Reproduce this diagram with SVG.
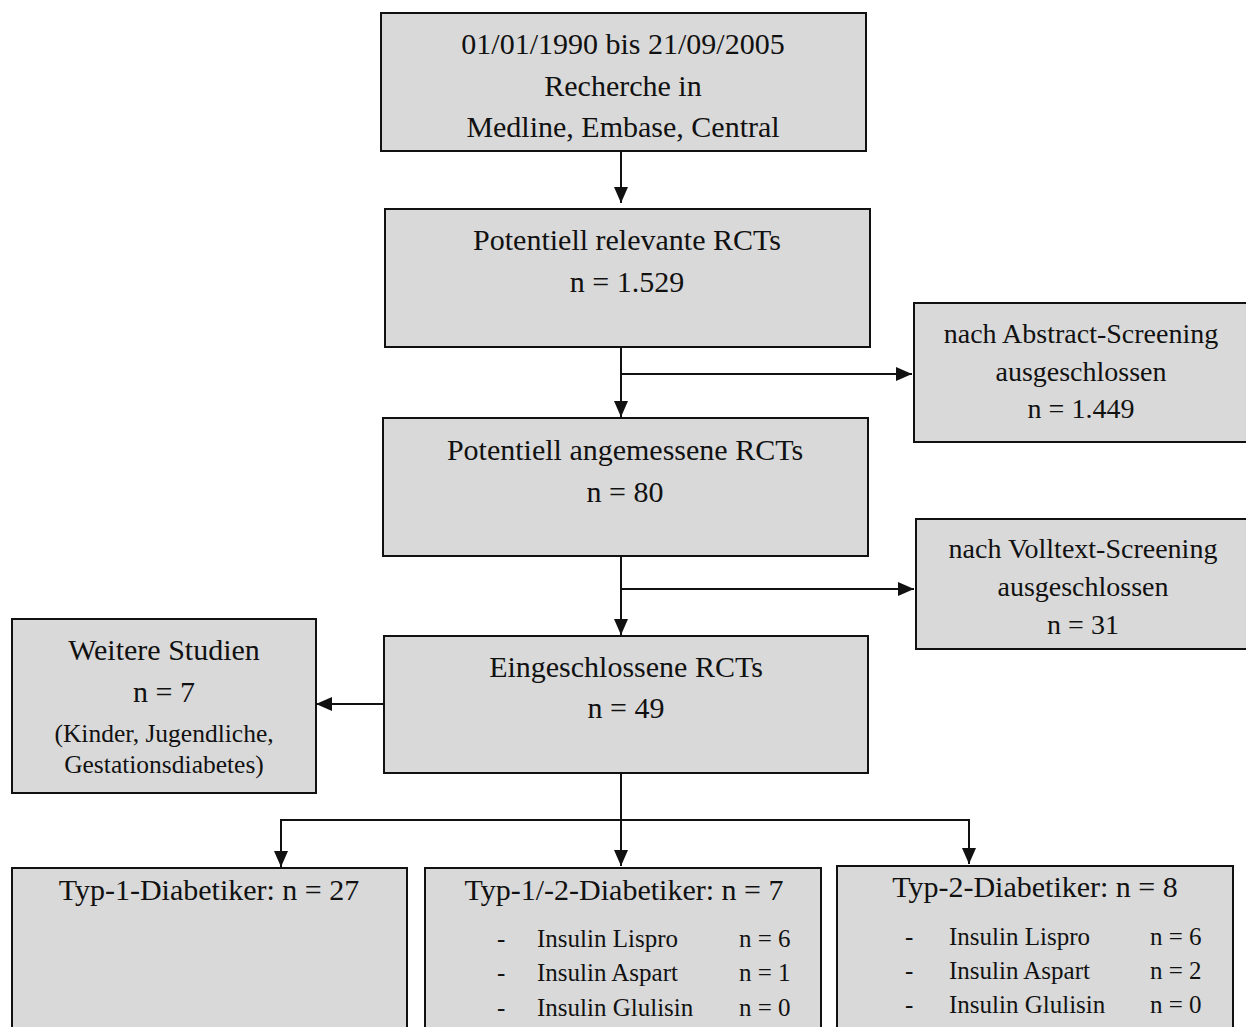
<svg xmlns="http://www.w3.org/2000/svg" width="1246" height="1027" viewBox="0 0 1246 1027">
  <style>
    .box { fill: #d9d9d9; stroke: #111; stroke-width: 2; }
    .t { font-family: "Liberation Serif", "Times New Roman", serif; fill: #111; }
    .big { font-size: 30px; text-anchor: middle; }
    .side { font-size: 28px; text-anchor: middle; }
    .small { font-size: 25.5px; text-anchor: middle; }
    .item { font-size: 25px; }
    .wire { fill: none; stroke: #111; stroke-width: 2; }
  </style>
  <defs>
    <marker id="arrow" markerUnits="userSpaceOnUse" markerWidth="16" markerHeight="14" refX="16" refY="7" orient="auto">
      <polygon points="0,0 16,7 0,14" fill="#111"/>
    </marker>
  </defs>

  <rect width="1246" height="1027" fill="#fff"/>

  <g id="connectors">
    <line class="wire" x1="621" y1="151" x2="621" y2="203" marker-end="url(#arrow)"/>
    <line class="wire" x1="621" y1="347" x2="621" y2="417" marker-end="url(#arrow)"/>
    <line class="wire" x1="621" y1="374" x2="912" y2="374" marker-end="url(#arrow)"/>
    <line class="wire" x1="621" y1="556" x2="621" y2="635" marker-end="url(#arrow)"/>
    <line class="wire" x1="621" y1="589" x2="914" y2="589" marker-end="url(#arrow)"/>
    <line class="wire" x1="384" y1="704" x2="316" y2="704" marker-end="url(#arrow)"/>
    <line class="wire" x1="621" y1="773" x2="621" y2="866" marker-end="url(#arrow)"/>
    <polyline class="wire" points="281,820 969,820 969,864" marker-end="url(#arrow)"/>
    <line class="wire" x1="281" y1="819" x2="281" y2="867" marker-end="url(#arrow)"/>
  </g>

  <g id="search">
    <rect class="box" x="381" y="13" width="485" height="138"/>
    <text class="t big" x="623" y="54">01/01/1990 bis 21/09/2005</text>
    <text class="t big" x="623" y="96">Recherche in</text>
    <text class="t big" x="623" y="137">Medline, Embase, Central</text>
  </g>

  <g id="relevant">
    <rect class="box" x="385" y="209" width="485" height="138"/>
    <text class="t big" x="627" y="250">Potentiell relevante RCTs</text>
    <text class="t big" x="627" y="292">n = 1.529</text>
  </g>

  <g id="abstract-excluded">
    <rect class="box" x="914" y="303" width="340" height="139"/>
    <text class="t side" x="1081" y="343">nach Abstract-Screening</text>
    <text class="t side" x="1081" y="381">ausgeschlossen</text>
    <text class="t side" x="1081" y="418">n = 1.449</text>
  </g>

  <g id="appropriate">
    <rect class="box" x="383" y="418" width="485" height="138"/>
    <text class="t big" x="625" y="460">Potentiell angemessene RCTs</text>
    <text class="t big" x="625" y="502">n = 80</text>
  </g>

  <g id="fulltext-excluded">
    <rect class="box" x="916" y="519" width="340" height="130"/>
    <text class="t side" x="1083" y="558">nach Volltext-Screening</text>
    <text class="t side" x="1083" y="596">ausgeschlossen</text>
    <text class="t side" x="1083" y="634">n = 31</text>
  </g>

  <g id="included">
    <rect class="box" x="384" y="636" width="484" height="137"/>
    <text class="t big" x="626" y="677">Eingeschlossene RCTs</text>
    <text class="t big" x="626" y="718">n = 49</text>
  </g>

  <g id="further">
    <rect class="box" x="12" y="619" width="304" height="174"/>
    <text class="t big" x="164" y="660">Weitere Studien</text>
    <text class="t big" x="164" y="702">n = 7</text>
    <text class="t small" x="164" y="742">(Kinder, Jugendliche,</text>
    <text class="t small" x="164" y="773">Gestationsdiabetes)</text>
  </g>

  <g id="type1">
    <rect class="box" x="12" y="868" width="395" height="170"/>
    <text class="t big" x="209" y="900">Typ-1-Diabetiker: n = 27</text>
  </g>

  <g id="type12">
    <rect class="box" x="425" y="868" width="396" height="170"/>
    <text class="t big" x="624" y="900">Typ-1/-2-Diabetiker: n = 7</text>
    <g class="t item">
      <text x="497" y="947">-</text><text x="537" y="947">Insulin Lispro</text><text x="739" y="947">n = 6</text>
      <text x="497" y="981">-</text><text x="537" y="981">Insulin Aspart</text><text x="739" y="981">n = 1</text>
      <text x="497" y="1016">-</text><text x="537" y="1016">Insulin Glulisin</text><text x="739" y="1016">n = 0</text>
    </g>
  </g>

  <g id="type2">
    <rect class="box" x="837" y="866" width="396" height="170"/>
    <text class="t big" x="1035" y="897">Typ-2-Diabetiker: n = 8</text>
    <g class="t item">
      <text x="905" y="945">-</text><text x="949" y="945">Insulin Lispro</text><text x="1150" y="945">n = 6</text>
      <text x="905" y="979">-</text><text x="949" y="979">Insulin Aspart</text><text x="1150" y="979">n = 2</text>
      <text x="905" y="1013">-</text><text x="949" y="1013">Insulin Glulisin</text><text x="1150" y="1013">n = 0</text>
    </g>
  </g>
</svg>
